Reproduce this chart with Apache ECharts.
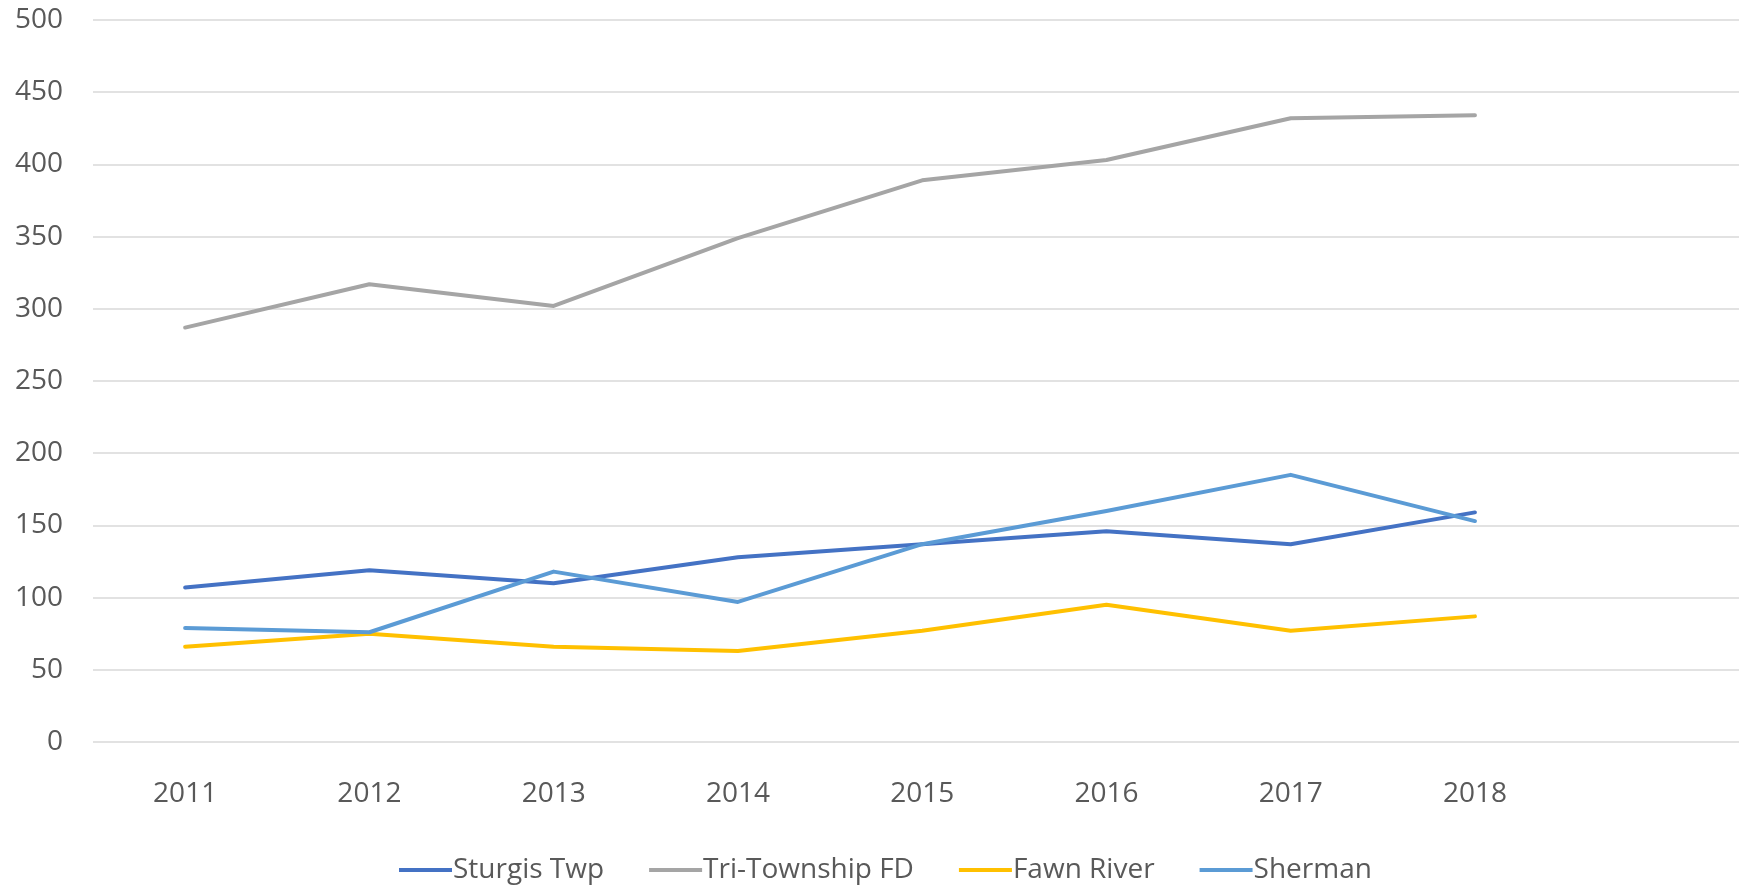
<!DOCTYPE html>
<html>
<head>
<meta charset="utf-8">
<script src="https://cdn.jsdelivr.net/npm/echarts@6/dist/echarts.min.js"></script>
<style>html,body{margin:0;padding:0;background:#fff}#c{width:1739px;height:885px}</style>
</head>
<body>
<div id="c"></div>
<script>
const categories = ['2011','2012','2013','2014','2015','2016','2017','2018'];
const sturgisTwp = [107,119,110,128,137,146,137,159];
const triTownship = [287,317,302,349,389,403,432,434];
const fawnRiver = [66,75,66,63,77,95,77,87];
const sherman = [79,76,118,97,137,160,185,153];
const yTicks = {min:0,max:500,interval:50};

const font = '"Open Sans", "Noto Sans", sans-serif';
function line(name, data, color){
  return {name, type:'line', data: data.map((v,i)=>[i,v]), symbol:'none', smooth:false,
    lineStyle:{color, width:4, cap:'round', join:'round'}, itemStyle:{color}};
}
const chart = echarts.init(document.getElementById('c'), null, {renderer:'canvas'});
chart.setOption({
  animation:false,
  backgroundColor:'#fff',
  grid:{left:93, right:0, top:20, bottom:143, containLabel:false},
  legend:{top:851, left:394, padding:5, itemWidth:53, itemHeight:4, itemGap:45,
    icon:'rect',
    textStyle:{fontFamily:font, fontSize:28, color:'#595959', padding:[0,0,0,-4]},
    data:['Sturgis Twp','Tri-Township FD','Fawn River','Sherman']},
  xAxis:{type:'value', min:-0.5, max:8.433,
    axisLine:{show:false}, axisTick:{show:false}, splitLine:{show:false},
    axisLabel:{fontFamily:font, fontSize:28, color:'#595959', margin:38,
      customValues: categories.map((c,i)=>i),
      formatter: v => categories[Math.round(v)] || ''}},
  yAxis:{type:'value', min:yTicks.min, max:yTicks.max, interval:yTicks.interval,
    axisLine:{show:false}, axisTick:{show:false},
    splitLine:{lineStyle:{color:'#D9D9D9', width:1.5}},
    axisLabel:{fontFamily:font, fontSize:28, color:'#595959', margin:30}},
  series:[
    line('Sturgis Twp', sturgisTwp, '#4472C4'),
    line('Tri-Township FD', triTownship, '#A5A5A5'),
    line('Fawn River', fawnRiver, '#FFC000'),
    line('Sherman', sherman, '#5B9BD5')
  ]
});
</script>
</body>
</html>
